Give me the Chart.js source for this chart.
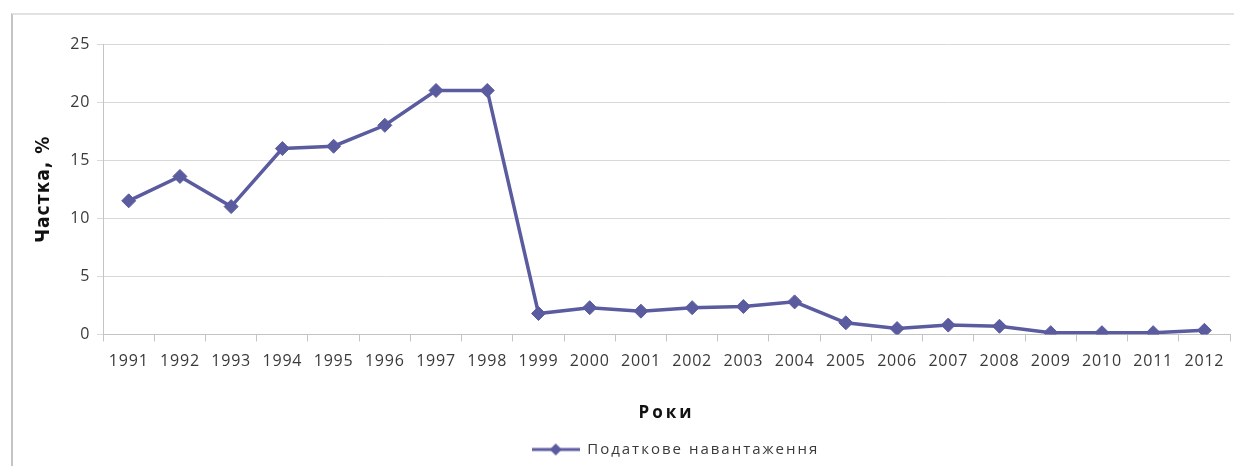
<!DOCTYPE html>
<html lang="uk">
<head>
    <meta charset="UTF-8">
    <title>Податкове навантаження</title>
    <script src="https://cdn.jsdelivr.net/npm/chart.js"></script>
    <style>
        html, body {
            margin: 0;
            padding: 0;
            background: #fff;
            overflow: hidden;
        }
        .frame {
            position: absolute;
            left: 11px;
            top: 13px;
            width: 1223px;
            height: 453px;
            border-left: 2px solid #c4c4c4;
            border-top: 2px solid #e2e2e2;
            box-sizing: border-box;
        }
        .chart-box {
            position: absolute;
            left: 0;
            top: 0;
            width: 1234px;
            height: 466px;
            overflow: hidden;
        }
    </style>
</head>
<body>
    <div class="frame"></div>
    <div class="chart-box">
        <canvas id="taxChart" width="1238" height="466"></canvas>
    </div>

    <script>
        // Дані
        const years = ['1991', '1992', '1993', '1994', '1995', '1996', '1997', '1998', '1999', '2000', '2001',
            '2002', '2003', '2004', '2005', '2006', '2007', '2008', '2009', '2010', '2011', '2012'];
        const taxBurden = [11.5, 13.6, 11.0, 16.0, 16.2, 18.0, 21.0, 21.0, 1.8, 2.3, 2.0,
            2.3, 2.4, 2.8, 1.0, 0.5, 0.8, 0.7, 0.15, 0.15, 0.15, 0.35];
        const seriesName = 'Податкове навантаження';
        const yTitle = 'Частка, %';
        const xTitle = 'Роки';

        const lineColor = '#5b5ba0';
        const textColor = '#3a3a3a';

        // маркер легенди: лінія з ромбом
        const legendMark = document.createElement('canvas');
        legendMark.width = 48;
        legendMark.height = 14;
        (function () {
            const c = legendMark.getContext('2d');
            c.strokeStyle = lineColor;
            c.lineWidth = 3;
            c.beginPath();
            c.moveTo(0, 7);
            c.lineTo(48, 7);
            c.stroke();
            c.fillStyle = lineColor;
            c.beginPath();
            c.moveTo(24, 1);
            c.lineTo(30, 7);
            c.lineTo(24, 13);
            c.lineTo(18, 7);
            c.closePath();
            c.fill();
        })();

        // розрядка тексту для підписів, заголовків і легенди
        function withSpacing(obj, method, spacing, dx, dy) {
            if (!obj || obj['_sp_' + method]) return;
            const orig = obj[method];
            obj[method] = function () {
                const ctx = this.ctx;
                ctx.save();
                ctx.letterSpacing = spacing;
                if (dx || dy) ctx.translate(dx || 0, dy || 0);
                const r = orig.apply(this, arguments);
                ctx.restore();
                return r;
            };
            obj['_sp_' + method] = true;
        }

        const spacingPlugin = {
            id: 'spacing',
            afterUpdate(chart) {
                withSpacing(chart.scales.x, 'drawTitle', '3px');
                withSpacing(chart.scales.y, 'drawTitle', '1px');
                withSpacing(chart.scales.x, 'drawLabels', '0.8px');
                withSpacing(chart.scales.y, 'drawLabels', '0.8px');
                // легенда в оригіналі трохи зсунута праворуч
                withSpacing(chart.legend, 'draw', '2px', 18, 1);
            }
        };

        new Chart(document.getElementById('taxChart'), {
            type: 'line',
            data: {
                labels: years,
                datasets: [{
                    label: seriesName,
                    data: taxBurden,
                    borderColor: lineColor,
                    backgroundColor: lineColor,
                    borderWidth: 3.5,
                    pointStyle: 'rectRot',
                    pointRadius: 7,
                    pointBorderWidth: 1,
                    tension: 0
                }]
            },
            options: {
                responsive: false,
                animation: false,
                layout: {
                    padding: { left: 33, right: 0, top: 44, bottom: 0 }
                },
                scales: {
                    x: {
                        offset: true,
                        grid: {
                            offset: true,
                            drawOnChartArea: false,
                            tickLength: 7,
                            color: '#c4c4c4'
                        },
                        border: { color: '#c4c4c4' },
                        ticks: {
                            color: textColor,
                            font: { family: 'Open Sans', size: 16 },
                            padding: 10,
                            maxRotation: 0,
                            autoSkip: false
                        },
                        title: {
                            display: true,
                            text: xTitle,
                            color: '#111',
                            font: { family: 'Open Sans', size: 17, weight: 'bold' },
                            padding: { top: 22, bottom: 15 }
                        }
                    },
                    y: {
                        min: 0,
                        max: 25,
                        grid: {
                            color: '#d8d8d8',
                            tickLength: 6
                        },
                        border: { color: '#c4c4c4' },
                        ticks: {
                            stepSize: 5,
                            color: textColor,
                            font: { family: 'Open Sans', size: 16 },
                            padding: 7
                        },
                        title: {
                            display: true,
                            text: yTitle,
                            color: '#111',
                            font: { family: 'DejaVu Sans Condensed', size: 19, weight: 'bold' },
                            padding: { top: 0, bottom: 9 }
                        }
                    }
                },
                plugins: {
                    legend: {
                        position: 'bottom',
                        labels: {
                            usePointStyle: true,
                            pointStyle: legendMark,
                            pointStyleWidth: 48,
                            color: textColor,
                            font: { family: 'Open Sans', size: 15 },
                            padding: 3
                        }
                    },
                    tooltip: { enabled: false }
                }
            },
            plugins: [spacingPlugin]
        });
    </script>
</body>
</html>
